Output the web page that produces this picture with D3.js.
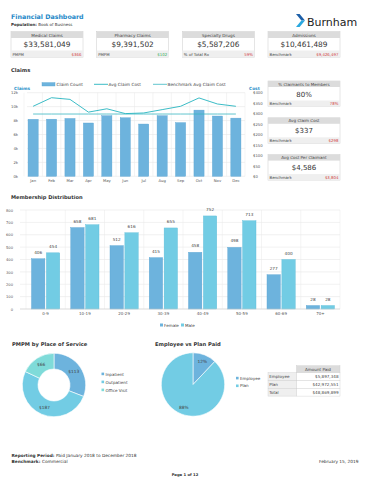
<!DOCTYPE html>
<html>
<head>
<meta charset="utf-8">
<script src="https://cdn.jsdelivr.net/npm/d3@7"></script>
<style>
  body { margin: 0; background: #fff; }
  text { font-family: "DejaVu Sans", Verdana, sans-serif; }
</style>
</head>
<body>
<svg id="page" width="370" height="480"></svg>
<script>
// ---- data ----
var kpiTitles = ["Medical Claims", "Pharmacy Claims", "Specialty Drugs", "Admissions"];
var kpiValues = ["$33,581,049", "$9,391,502", "$5,587,206", "$10,461,489"];
var kpiSubLabels = ["PMPM", "PMPM", "% of Total Rx", "Benchmark"];
var kpiSubValues = ["$366", "$102", "59%", "$9,426,497"];
var kpiSubGood = [false, true, false, false];

var months = ["Jan", "Feb", "Mar", "Apr", "May", "Jun", "Jul", "Aug", "Sep", "Oct", "Nov", "Dec"];
var claimCount = [8180, 8200, 8300, 7650, 8700, 8400, 7500, 8700, 7700, 9500, 8650, 8350];
var avgClaimCost = [335, 376, 368, 307, 323, 300, 303, 319, 335, 375, 346, 335];
var benchmarkCost = [298, 298, 298, 298, 298, 298, 298, 298, 298, 298, 298, 298];
var claimTicks = [0, 2000, 4000, 6000, 8000, 10000, 12000];
var costTicks = [0, 50, 100, 150, 200, 250, 300, 350, 400];

var panelTitles = ["% Claimants to Members", "Avg Claim Cost", "Avg Cost Per Claimant"];
var panelValues = ["80%", "$337", "$4,586"];
var panelBench = ["78%", "$298", "$3,804"];

var ageGroups = ["0-9", "10-19", "20-29", "30-39", "40-49", "50-59", "60-69", "70+"];
var female = [406, 658, 512, 415, 458, 498, 277, 28];
var male = [454, 681, 616, 655, 752, 713, 400, 28];
var memberTicks = [0, 100, 200, 300, 400, 500, 600, 700, 800];

var posNames = ["Inpatient", "Outpatient", "Office Visit"];
var posValues = [113, 187, 66];

var paidNames = ["Employee", "Plan"];
var paidValues = [5897348, 42972551];
var paidTotal = 48869899;

var svg = d3.select("#page");
var fmtMoney = d3.format("$,");
var blue = "#6db3dd", cyan = "#72cce4", teal = "#7fdbd9";
var red = "#d23c3c", green = "#2fae5a";
var valueFont = "'Open Sans', 'Liberation Sans', sans-serif";

// ---- header ----
svg.append("text").attr("x", 11).attr("y", 19)
  .attr("font-size", 6.3).attr("font-weight", "bold").attr("fill", "#1e88c8")
  .text("Financial Dashboard");
var pop = svg.append("text").attr("x", 11).attr("y", 25.5).attr("font-size", 4).attr("fill", "#333");
pop.append("tspan").attr("font-weight", "bold").text("Population: ");
pop.append("tspan").text("Book of Business");

// logo
var logo = svg.append("g").attr("transform", "translate(296,14)");
logo.append("path").attr("d", "M0,0 L3.6,0 L9,6.5 L5.4,6.5 Z").attr("fill", "#1d5fa8");
logo.append("path").attr("d", "M5.4,6.5 L9,6.5 L3.6,13 L0,13 Z").attr("fill", "#2aa8df");
svg.append("text").attr("x", 307).attr("y", 26).attr("font-size", 11)
  .attr("font-family", valueFont).attr("fill", "#222").text("Burnham");

// ---- KPI boxes ----
var kpiX = d3.scalePoint().domain(d3.range(4)).range([11, 268]);
kpiTitles.forEach(function(t, i) {
  var g = svg.append("g").attr("transform", "translate(" + kpiX(i) + ",31.5)");
  g.append("rect").attr("width", 72).attr("height", 26).attr("fill", "#fff").attr("stroke", "#ccc").attr("stroke-width", 0.5);
  g.append("rect").attr("width", 72).attr("height", 6.5).attr("fill", "#dcdcdc");
  g.append("rect").attr("y", 19).attr("width", 72).attr("height", 7).attr("fill", "#efefef");
  g.append("text").attr("x", 36).attr("y", 5).attr("text-anchor", "middle").attr("font-size", 4.2).attr("fill", "#444").text(t);
  g.append("text").attr("x", 36).attr("y", 15.6).attr("text-anchor", "middle").attr("font-size", 7.4)
    .attr("font-family", valueFont).attr("fill", "#333").text(kpiValues[i]);
  g.append("text").attr("x", 1.5).attr("y", 24.2).attr("font-size", 3.9).attr("fill", "#444").text(kpiSubLabels[i]);
  g.append("text").attr("x", 70.5).attr("y", 24.2).attr("text-anchor", "end").attr("font-size", 3.9)
    .attr("fill", kpiSubGood[i] ? green : red).text(kpiSubValues[i]);
});

// ---- Claims chart ----
svg.append("text").attr("x", 11).attr("y", 71.5).attr("font-size", 5.2).attr("font-weight", "bold").attr("fill", "#333").text("Claims");

var cx = d3.scaleBand().domain(months).range([24, 245]).paddingInner(0.45).paddingOuter(0.22);
var cyL = d3.scaleLinear().domain([0, 12000]).range([176.3, 92.7]);
var cyR = d3.scaleLinear().domain([0, 400]).range([176.3, 92.7]);

var cg = svg.append("g");
cg.selectAll(".hg").data(claimTicks).enter().append("line")
  .attr("x1", 27).attr("x2", 245).attr("y1", function(d) { return cyL(d); }).attr("y2", function(d) { return cyL(d); })
  .attr("stroke", "#e2e2e2").attr("stroke-width", 0.5);
cg.selectAll(".vg").data(d3.range(13)).enter().append("line")
  .attr("x1", function(i) { return 24 + i * (221 / 12); }).attr("x2", function(i) { return 24 + i * (221 / 12); })
  .attr("y1", 92.7).attr("y2", 176.3).attr("stroke", "#e8e8e8").attr("stroke-width", 0.5);

cg.selectAll(".bar").data(claimCount).enter().append("rect")
  .attr("x", function(d, i) { return cx(months[i]); }).attr("width", cx.bandwidth())
  .attr("y", function(d) { return cyL(d); }).attr("height", function(d) { return cyL(0) - cyL(d); })
  .attr("fill", blue).attr("stroke", "#58a4d2").attr("stroke-width", 0.4);

var lineGen = d3.line().x(function(d, i) { return cx(months[i]) + cx.bandwidth() / 2; }).y(function(d) { return cyR(d); });
cg.append("path").datum(benchmarkCost).attr("d", lineGen).attr("fill", "none").attr("stroke", "#3ab7c1").attr("stroke-width", 0.8);
cg.append("path").datum(avgClaimCost).attr("d", lineGen).attr("fill", "none").attr("stroke", "#26b4bf").attr("stroke-width", 0.9);

cg.append("g").attr("transform", "translate(21,0)")
  .call(d3.axisLeft(cyL).tickValues(claimTicks).tickSize(0).tickFormat(function(d) { return (d / 1000) + "k"; }))
  .call(function(g) { g.select(".domain").remove(); g.selectAll("text").attr("font-size", 3.8).attr("fill", "#555").attr("font-family", null); });
cg.append("g").attr("transform", "translate(250,0)")
  .call(d3.axisRight(cyR).tickValues(costTicks).tickSize(0).tickFormat(function(d) { return "$" + d; }))
  .call(function(g) { g.select(".domain").remove(); g.selectAll("text").attr("font-size", 3.8).attr("fill", "#555").attr("font-family", null); });
cg.append("g").attr("transform", "translate(0,177)")
  .call(d3.axisBottom(cx).tickSize(0).tickPadding(2))
  .call(function(g) { g.select(".domain").remove(); g.selectAll("text").attr("font-size", 3.8).attr("fill", "#555").attr("font-family", null); });

svg.append("text").attr("x", 14).attr("y", 89.5).attr("font-size", 4.3).attr("font-weight", "bold").attr("fill", "#2a8fc8").text("Claims");
svg.append("text").attr("x", 249).attr("y", 89.5).attr("font-size", 4.3).attr("font-weight", "bold").attr("fill", "#2a8fc8").text("Cost");

// legend
var lg = svg.append("g").attr("font-size", 4.3).attr("fill", "#444");
lg.append("rect").attr("x", 42).attr("y", 82.6).attr("width", 13).attr("height", 3.4).attr("fill", blue).attr("stroke", "#58a4d2").attr("stroke-width", 0.4);
lg.append("text").attr("x", 56.5).attr("y", 86).text("Claim Count");
lg.append("line").attr("x1", 94).attr("x2", 108).attr("y1", 84.3).attr("y2", 84.3).attr("stroke", "#26b4bf").attr("stroke-width", 0.9);
lg.append("text").attr("x", 108.5).attr("y", 86).text("Avg Claim Cost");
lg.append("line").attr("x1", 153).attr("x2", 167).attr("y1", 84.3).attr("y2", 84.3).attr("stroke", "#3ab7c1").attr("stroke-width", 0.8);
lg.append("text").attr("x", 167.5).attr("y", 86).text("Benchmark Avg Claim Cost");

// side panels
panelTitles.forEach(function(t, i) {
  var g = svg.append("g").attr("transform", "translate(268," + (81 + i * 36.8) + ")");
  g.append("rect").attr("width", 72).attr("height", 25.5).attr("fill", "#fff").attr("stroke", "#ccc").attr("stroke-width", 0.5);
  g.append("rect").attr("width", 72).attr("height", 6).attr("fill", "#dcdcdc");
  g.append("rect").attr("y", 19.5).attr("width", 72).attr("height", 6).attr("fill", "#efefef");
  g.append("text").attr("x", 36).attr("y", 4.6).attr("text-anchor", "middle").attr("font-size", 4.1).attr("fill", "#444").text(t);
  g.append("text").attr("x", 36).attr("y", 15.6).attr("text-anchor", "middle").attr("font-size", 7)
    .attr("font-family", valueFont).attr("fill", "#333").text(panelValues[i]);
  g.append("text").attr("x", 1.5).attr("y", 24).attr("font-size", 3.9).attr("fill", "#444").text("Benchmark");
  g.append("text").attr("x", 70.5).attr("y", 24).attr("text-anchor", "end").attr("font-size", 3.9).attr("fill", red).text(panelBench[i]);
});

// ---- Membership Distribution ----
svg.append("text").attr("x", 11).attr("y", 199).attr("font-size", 5.1).attr("font-weight", "bold").attr("fill", "#333").text("Membership Distribution");

var mx = d3.scaleBand().domain(ageGroups).range([26, 340]).paddingInner(0.28).paddingOuter(0.14);
var mx1 = d3.scaleBand().domain(["f", "m"]).range([0, mx.bandwidth()]).paddingInner(0.1);
var my = d3.scaleLinear().domain([0, 800]).range([309, 210]);
var mg = svg.append("g");
mg.selectAll(".hg").data(memberTicks).enter().append("line")
  .attr("x1", 20).attr("x2", 340).attr("y1", function(d) { return my(d); }).attr("y2", function(d) { return my(d); })
  .attr("stroke", "#e2e2e2").attr("stroke-width", 0.5);
mg.selectAll(".vg").data(d3.range(ageGroups.length + 1)).enter().append("line")
  .attr("x1", function(i) { return 26 + i * (314 / 8); }).attr("x2", function(i) { return 26 + i * (314 / 8); })
  .attr("y1", 210).attr("y2", 309).attr("stroke", "#e8e8e8").attr("stroke-width", 0.5);

[{ vals: female, key: "f", fill: blue, stroke: "#58a4d2" }, { vals: male, key: "m", fill: cyan, stroke: "#5cbcd8" }].forEach(function(s) {
  mg.selectAll(".b" + s.key).data(s.vals).enter().append("rect")
    .attr("x", function(d, i) { return mx(ageGroups[i]) + mx1(s.key); }).attr("width", mx1.bandwidth())
    .attr("y", function(d) { return my(d); }).attr("height", function(d) { return my(0) - my(d); })
    .attr("fill", s.fill).attr("stroke", s.stroke).attr("stroke-width", 0.4);
  mg.selectAll(".l" + s.key).data(s.vals).enter().append("text")
    .attr("x", function(d, i) { return mx(ageGroups[i]) + mx1(s.key) + mx1.bandwidth() / 2; })
    .attr("y", function(d) { return my(d) - 5; }).attr("text-anchor", "middle")
    .attr("font-size", 4.2).attr("fill", "#444").text(function(d) { return d; });
});
mg.append("line").attr("x1", 20).attr("x2", 340).attr("y1", 309).attr("y2", 309).attr("stroke", "#ccc").attr("stroke-width", 0.5);
mg.append("g").attr("transform", "translate(16,0)")
  .call(d3.axisLeft(my).tickValues(memberTicks).tickSize(0))
  .call(function(g) { g.select(".domain").remove(); g.selectAll("text").attr("font-size", 3.7).attr("fill", "#555").attr("font-family", null); });
mg.append("g").attr("transform", "translate(0,310)")
  .call(d3.axisBottom(mx).tickSize(0).tickPadding(2))
  .call(function(g) { g.select(".domain").remove(); g.selectAll("text").attr("font-size", 4).attr("fill", "#555").attr("font-family", null); });

var ml = svg.append("g").attr("font-size", 4.1).attr("fill", "#444");
ml.append("rect").attr("x", 160).attr("y", 323.5).attr("width", 3).attr("height", 3).attr("fill", blue);
ml.append("text").attr("x", 164).attr("y", 326.5).text("Female");
ml.append("rect").attr("x", 181).attr("y", 323.5).attr("width", 3).attr("height", 3).attr("fill", cyan);
ml.append("text").attr("x", 185).attr("y", 326.5).text("Male");

// ---- PMPM donut ----
svg.append("text").attr("x", 12).attr("y", 346).attr("font-size", 5.2).attr("font-weight", "bold").attr("fill", "#333").text("PMPM by Place of Service");
var posColors = [blue, cyan, teal];
var pie = d3.pie().sort(null);
var donutArc = d3.arc().innerRadius(16).outerRadius(31.7);
var donutLabel = d3.arc().innerRadius(24).outerRadius(24);
var dg = svg.append("g").attr("transform", "translate(54,385)");
var dArcs = pie(posValues);
dg.selectAll("path").data(dArcs).enter().append("path").attr("d", donutArc)
  .attr("fill", function(d, i) { return posColors[i]; }).attr("stroke", "#fff").attr("stroke-width", 0.6);
dg.selectAll("text").data(dArcs).enter().append("text")
  .attr("transform", function(d) { return "translate(" + donutLabel.centroid(d) + ")"; })
  .attr("text-anchor", "middle").attr("dy", "0.35em").attr("font-size", 4.3).attr("fill", "#444")
  .text(function(d) { return "$" + d.data; });
var pl = svg.append("g").attr("font-size", 4.1).attr("fill", "#444");
posNames.forEach(function(n, i) {
  pl.append("rect").attr("x", 101.5).attr("y", 372.6 + i * 8).attr("width", 2.6).attr("height", 2.6).attr("fill", posColors[i]);
  pl.append("text").attr("x", 105.5).attr("y", 375.5 + i * 8).text(n);
});

// ---- Employee vs Plan pie ----
svg.append("text").attr("x", 155).attr("y", 346).attr("font-size", 5.2).attr("font-weight", "bold").attr("fill", "#333").text("Employee vs Plan Paid");
var paidColors = [blue, cyan];
var pieArc = d3.arc().innerRadius(0).outerRadius(31.7);
var pieLabel = d3.arc().innerRadius(25).outerRadius(25);
var pg = svg.append("g").attr("transform", "translate(193,384.5)");
var pArcs = pie(paidValues);
pg.selectAll("path").data(pArcs).enter().append("path").attr("d", pieArc)
  .attr("fill", function(d, i) { return paidColors[i]; }).attr("stroke", "#fff").attr("stroke-width", 0.6);
pg.selectAll("text").data(pArcs).enter().append("text")
  .attr("transform", function(d) { return "translate(" + pieLabel.centroid(d) + ")"; })
  .attr("text-anchor", "middle").attr("dy", "0.35em").attr("font-size", 4.3).attr("fill", "#444")
  .text(function(d) { return Math.round(d.data / paidTotal * 100) + "%"; });
var el = svg.append("g").attr("font-size", 4.1).attr("fill", "#444");
paidNames.forEach(function(n, i) {
  el.append("rect").attr("x", 236).attr("y", 376.8 + i * 7.7).attr("width", 2.6).attr("height", 2.6).attr("fill", paidColors[i]);
  el.append("text").attr("x", 240).attr("y", 379.7 + i * 7.7).text(n);
});

// table
var tableRows = [["Employee", paidValues[0]], ["Plan", paidValues[1]], ["Total", paidTotal]];
var tg = svg.append("g").attr("transform", "translate(268,365.7)");
tg.append("rect").attr("x", 28.5).attr("width", 43.5).attr("height", 7).attr("fill", "#dcdcdc").attr("stroke", "#ccc").attr("stroke-width", 0.4);
tg.append("text").attr("x", 50).attr("y", 5.2).attr("text-anchor", "middle").attr("font-size", 4.1).attr("fill", "#444").text("Amount Paid");
tableRows.forEach(function(r, i) {
  var y = 7 + i * 7.8;
  tg.append("rect").attr("y", y).attr("width", 28.5).attr("height", 7.8).attr("fill", "#efefef").attr("stroke", "#ccc").attr("stroke-width", 0.4);
  tg.append("rect").attr("x", 28.5).attr("y", y).attr("width", 43.5).attr("height", 7.8).attr("fill", "#fff").attr("stroke", "#ccc").attr("stroke-width", 0.4);
  tg.append("text").attr("x", 1.2).attr("y", y + 5.4).attr("font-size", 4.1).attr("fill", "#444").text(r[0]);
  tg.append("text").attr("x", 70.5).attr("y", y + 5.4).attr("text-anchor", "end").attr("font-size", 4.1).attr("fill", "#444").text(fmtMoney(r[1]));
});

// ---- footer ----
var f1 = svg.append("text").attr("x", 11.5).attr("y", 457).attr("font-size", 4.3).attr("fill", "#333");
f1.append("tspan").attr("font-weight", "bold").text("Reporting Period: ");
f1.append("tspan").text("Paid January 2018 to December 2018");
var f2 = svg.append("text").attr("x", 11.5).attr("y", 462.5).attr("font-size", 4.3).attr("fill", "#333");
f2.append("tspan").attr("font-weight", "bold").text("Benchmark: ");
f2.append("tspan").text("Commercial");
svg.append("text").attr("x", 358.5).attr("y", 462.5).attr("text-anchor", "end").attr("font-size", 4.3).attr("fill", "#333").text("February 15, 2019");
svg.append("text").attr("x", 185).attr("y", 475.5).attr("text-anchor", "middle").attr("font-size", 3.8).attr("font-weight", "bold").attr("fill", "#333").text("Page 1 of 12");
</script>
</body>
</html>
